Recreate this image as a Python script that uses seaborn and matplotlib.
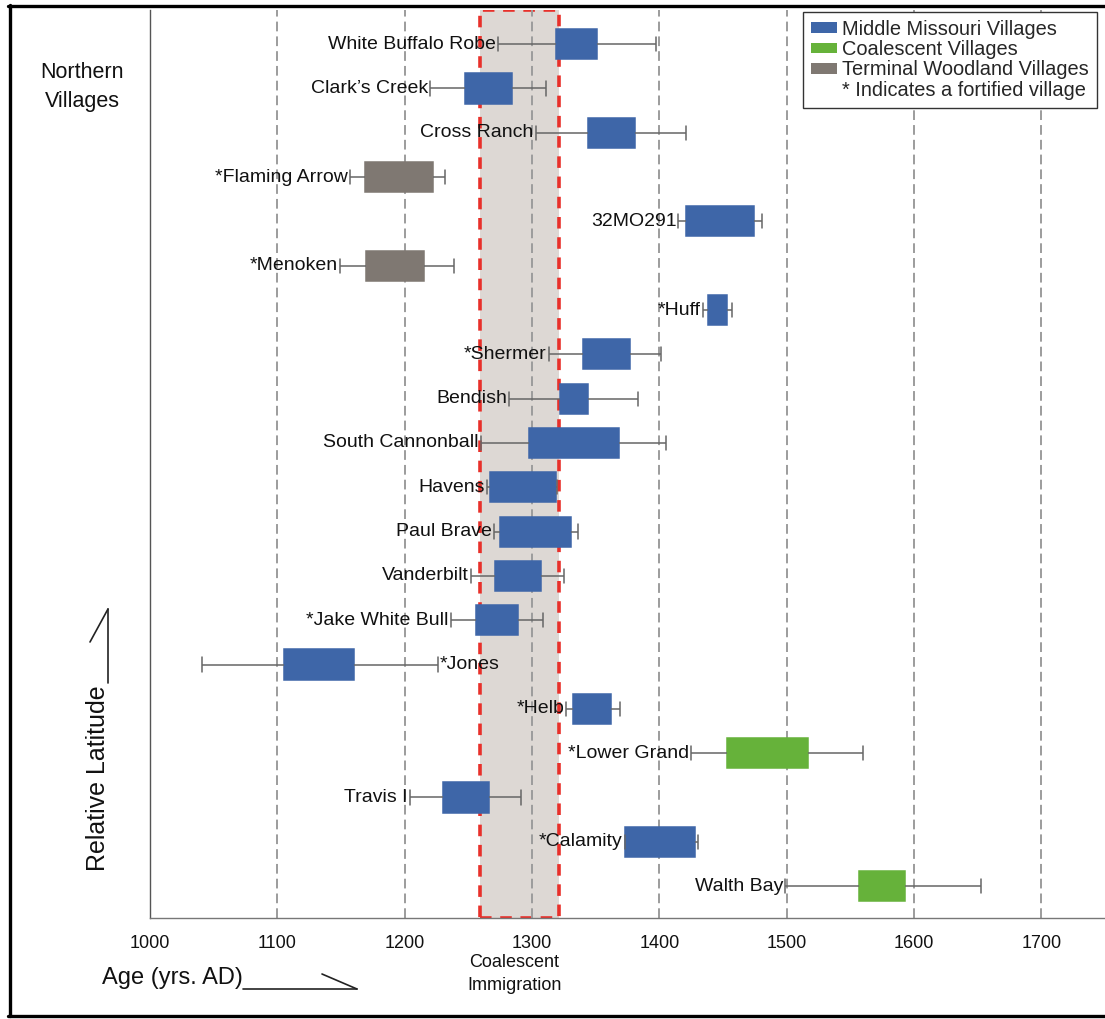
import numpy as np
import pandas as pd
import seaborn as sns
import matplotlib.pyplot as plt
from matplotlib.lines import Line2D
from matplotlib.patches import Patch

# villages, listed north to south
villages = ['White Buffalo Robe', "Clark\u2019s Creek", 'Cross Ranch', '*Flaming Arrow',
            '32MO291', '*Menoken', '*Huff', '*Shermer', 'Bendish', 'South Cannonball',
            'Havens', 'Paul Brave', 'Vanderbilt', '*Jake White Bull', '*Jones', '*Helb',
            '*Lower Grand', 'Travis I', '*Calamity', 'Walth Bay']
groups = ['MM', 'MM', 'MM', 'TW', 'MM', 'TW', 'MM', 'MM', 'MM', 'MM',
          'MM', 'MM', 'MM', 'MM', 'MM', 'MM', 'CO', 'MM', 'MM', 'CO']
low = [1273, 1220, 1303, 1157, 1415, 1149, 1434, 1313, 1282, 1260,
       1265, 1270, 1252, 1236, 1041, 1327, 1425, 1204, 1373, 1499]
q1 = [1319, 1247, 1344, 1169, 1421, 1170, 1438, 1340, 1322, 1298,
      1267, 1275, 1271, 1256, 1105, 1332, 1453, 1230, 1373, 1557]
q3 = [1351, 1284, 1381, 1222, 1474, 1215, 1453, 1377, 1344, 1368,
      1319, 1331, 1307, 1289, 1160, 1362, 1517, 1266, 1428, 1593]
high = [1397, 1311, 1421, 1232, 1481, 1239, 1457, 1401, 1383, 1405,
        1320, 1336, 1325, 1309, 1226, 1369, 1560, 1291, 1430, 1653]

coalescent_start, coalescent_end = 1259, 1321

pal = {'MM': '#3e66a8', 'CO': '#66b23a', 'TW': '#7f7872'}
legend_names = {'MM': 'Middle Missouri Villages', 'CO': 'Coalescent Villages',
                'TW': 'Terminal Woodland Villages'}

rows = []
for v, g, a, b, c, d in zip(villages, groups, low, q1, q3, high):
    for val in [a, b, b, c, d]:
        rows.append({'village': v, 'group': g, 'year': val})
df = pd.DataFrame(rows)

sns.set_style('white')
plt.rcParams['font.family'] = ['Liberation Sans', 'DejaVu Sans']

fig = plt.figure(figsize=(11.05, 10.19), dpi=100)
ax = fig.add_axes([150 / 1105, 1 - 918 / 1019, 1 - 150 / 1105, (918 - 10) / 1019])

sns.boxplot(data=df, x='year', y='village', hue='group', order=villages, palette=pal,
            saturation=1, dodge=False, width=0.68, whis=np.inf, showfliers=False,
            linecolor='#666666', linewidth=1.1, medianprops={'visible': False},
            legend=False, ax=ax, capwidths=0.32)
for p in ax.patches:
    p.set_edgecolor(p.get_facecolor())
    p.set_zorder(2)

# coalescent immigration window
ax.axvspan(coalescent_start, coalescent_end, facecolor='#ddd8d4', edgecolor='#e8302a',
           linestyle=(0, (3.2, 2.4)), linewidth=2.6, zorder=0.3)

for i, v in enumerate(villages):
    if v == '*Jones':
        ax.annotate(v, (high[i], i), xytext=(1, 0), textcoords='offset points',
                    ha='left', va='center', fontsize=14, color='#111111')
    else:
        ax.annotate(v, (low[i], i), xytext=(-1.5, 0), textcoords='offset points',
                    ha='right', va='center', fontsize=14, color='#111111')

ax.set_xlim(1000, 1750)
ax.set_ylim(19.72, -0.77)
ax.set_xticks(range(1000, 1800, 100))
ax.set_yticks([])
ax.set_xlabel('')
ax.set_ylabel('')
ax.tick_params(axis='x', length=0, pad=12, labelsize=13, labelcolor='#111111')
for x in range(1100, 1800, 100):
    ax.axvline(x, color='#9c9c9c', linewidth=1.4, linestyle=(0, (5, 2.6)), zorder=0.5)
for s in ['top', 'right']:
    ax.spines[s].set_visible(False)
ax.spines['left'].set_color('#555555')
ax.spines['bottom'].set_color('#777777')
ax.spines['left'].set_linewidth(1.0)
ax.spines['bottom'].set_linewidth(1.0)

ax.text((coalescent_start + coalescent_end) / 2 - 4, -0.04, 'Coalescent\nImmigration',
        transform=ax.get_xaxis_transform(), ha='center', va='top', fontsize=13,
        linespacing=1.4, color='#111111')

handles = [Patch(facecolor=pal[k], edgecolor='none') for k in ['MM', 'CO', 'TW']]
handles.append(Patch(facecolor='none', edgecolor='none'))
labels = [legend_names[k] for k in ['MM', 'CO', 'TW']] + ['* Indicates a fortified village']
leg = ax.legend(handles, labels, loc='upper right', bbox_to_anchor=(0.9916, 0.9978),
                fontsize=14.4, labelspacing=0.06, handlelength=1.3, handleheight=0.45,
                handletextpad=0.25, borderpad=0.4, borderaxespad=0, fancybox=False,
                framealpha=1, edgecolor='#333333')
leg.get_frame().set_linewidth(1.0)

# side annotations
fig.text(82 / 1105, 1 - 87 / 1019, 'Northern\nVillages', ha='center', va='center',
         fontsize=15.5, linespacing=1.45, color='#111111')
fig.text(98 / 1105, 1 - 778 / 1019, 'Relative Latitude', rotation=90, ha='center',
         va='center', fontsize=18, color='#111111')
fig.text(172 / 1105, 1 - 978 / 1019, 'Age (yrs. AD)', ha='center', va='center',
         fontsize=17, color='#111111')

def figline(xs, ys, lw=1.2, color='#222222'):
    fig.add_artist(Line2D([x / 1105 for x in xs], [1 - y / 1019 for y in ys],
                          color=color, linewidth=lw))

figline([108, 108], [609, 683])
figline([108, 90], [609, 642])
figline([243, 357], [989, 989])
figline([322, 357], [974, 989])

# outer frame
figline([9.5, 9.5], [5, 1016], lw=2.4, color='black')
figline([8, 1105], [6, 6], lw=2.4, color='black')
figline([8, 1105], [1016, 1016], lw=2.4, color='black')

plt.savefig('out.png', dpi=100)
